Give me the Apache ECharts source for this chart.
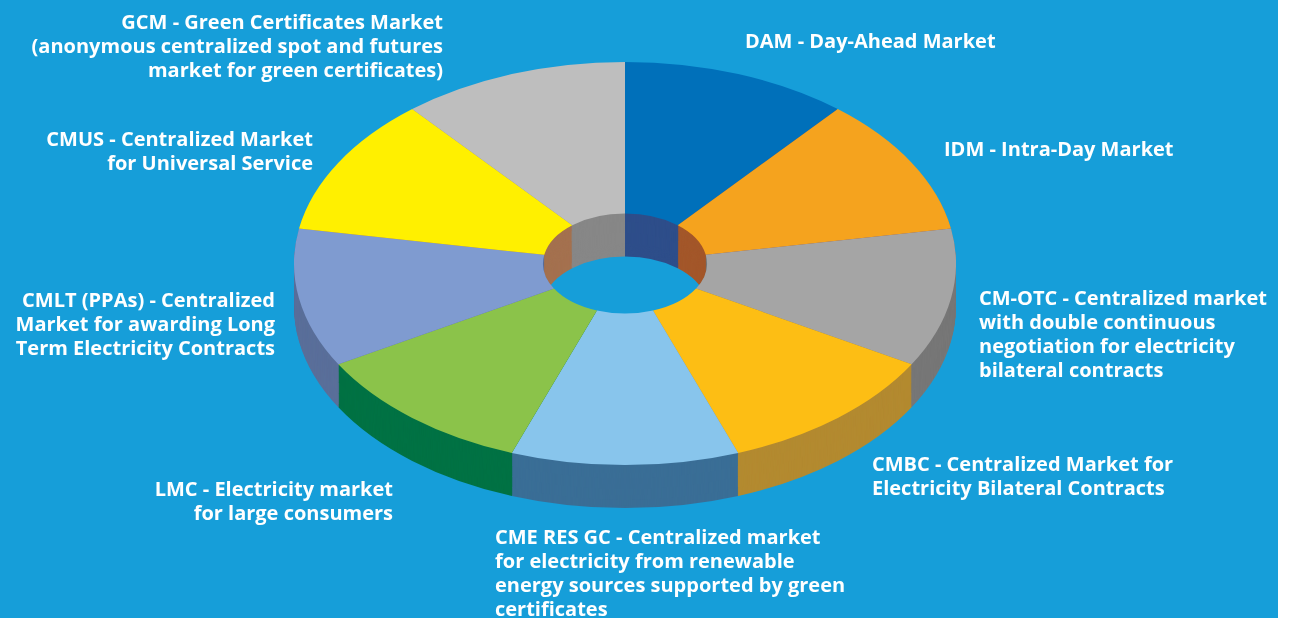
<!DOCTYPE html>
<html><head><meta charset="utf-8">
<script src="https://cdn.jsdelivr.net/npm/echarts@6/dist/echarts.min.js"></script>
<style>
html,body{margin:0;padding:0;width:1294px;height:618px;overflow:hidden;background:#ffffff;}
#labels{position:absolute;left:0;top:0;width:1294px;height:618px;}
#pie{position:absolute;left:0;top:0;width:1294px;height:1015px;transform:scaleY(0.609);transform-origin:0 0;}
</style></head><body>
<div id="labels"></div>
<div id="pie"></div>
<script>
// ---- data ----
const categories = ['DAM','IDM','CM-OTC','CMBC','CME RES GC','LMC','CMLT (PPAs)','CMUS','GCM'];
const values = [1,1,1,1,1,1,1,1,1];
const labelTexts = [
  'DAM - Day-Ahead Market',
  'IDM - Intra-Day Market',
  'CM-OTC - Centralized market\nwith double continuous\nnegotiation for electricity\nbilateral contracts',
  'CMBC - Centralized Market for\nElectricity Bilateral Contracts',
  'CME RES GC - Centralized market\nfor electricity from renewable\nenergy sources supported by green\ncertificates',
  'LMC - Electricity market\nfor large consumers',
  'CMLT (PPAs) - Centralized\nMarket for awarding Long\nTerm Electricity Contracts',
  'CMUS - Centralized Market\nfor Universal Service',
  'GCM - Green Certificates Market\n(anonymous centralized spot and futures\nmarket for green certificates)'
];
const topColors  = ['#0070BA','#F5A31E','#A5A5A5','#FDBE14','#88C5EC','#8BC34A','#7F9BD0','#FFF000','#BEBEBE'];
const sideColors = ['#2E4E8A','#A3572A','#777777','#B38A30','#3A6E96','#007244','#5A6F9A','#A4714F','#878787'];

// ---- layout ----
const SY = 0.609;               // vertical squash of the pie
const CX = 625, CY = 263.5 / SY; // pie centre (unsquashed coords)
const R_OUT = 331, R_IN = 82;
const DEPTH = 43 / SY;
const LAYERS = 44;
const labelPos = [ // [x, centerY, align]
  [745, 42, 'left'],
  [944, 150, 'left'],
  [979, 335.5, 'left'],
  [872, 477, 'left'],
  [495, 574.5, 'left'],
  [393, 502, 'right'],
  [275, 325, 'right'],
  [313, 152, 'right'],
  [443, 47, 'right']
];

// ---- labels / background chart ----
const lab = echarts.init(document.getElementById('labels'), null, {renderer:'canvas'});
const graphics = [
  {type:'rect', shape:{x:0, y:0, width:1278, height:618}, style:{fill:'#169ED9'}, silent:true, z:0}
];
labelTexts.forEach((t, i) => {
  const p = labelPos[i];
  graphics.push({
    type:'text', x:p[0], y:p[1], z:10, silent:true,
    style:{text:t, fill:'#ffffff', fontFamily:'"Open Sans", sans-serif', fontWeight:'bold', fontSize:20,
           lineHeight:24, align:p[2], verticalAlign:'middle'}
  });
});
lab.setOption({animation:false, graphic:graphics});

// ---- pie chart (squashed to look 3D) ----
const pie = echarts.init(document.getElementById('pie'), null, {renderer:'svg'});
function layer(offset, colors, z) {
  return {
    type:'pie', center:[CX, CY + offset], radius:[R_IN, R_OUT], startAngle:90, clockwise:true,
    silent:true, animation:false, z:z, label:{show:false}, labelLine:{show:false},
    emphasis:{disabled:true}, itemStyle:{borderWidth:0},
    data: categories.map((c, i) => ({name:c, value:values[i], itemStyle:{color:colors[i]}}))
  };
}
const series = [];
for (let k = 0; k < LAYERS; k++) {
  series.push(layer(DEPTH * (LAYERS - k) / LAYERS, sideColors, k + 1));
}
series.push(layer(0, topColors, LAYERS + 2));
pie.setOption({animation:false, series:series});
</script>
</body></html>
